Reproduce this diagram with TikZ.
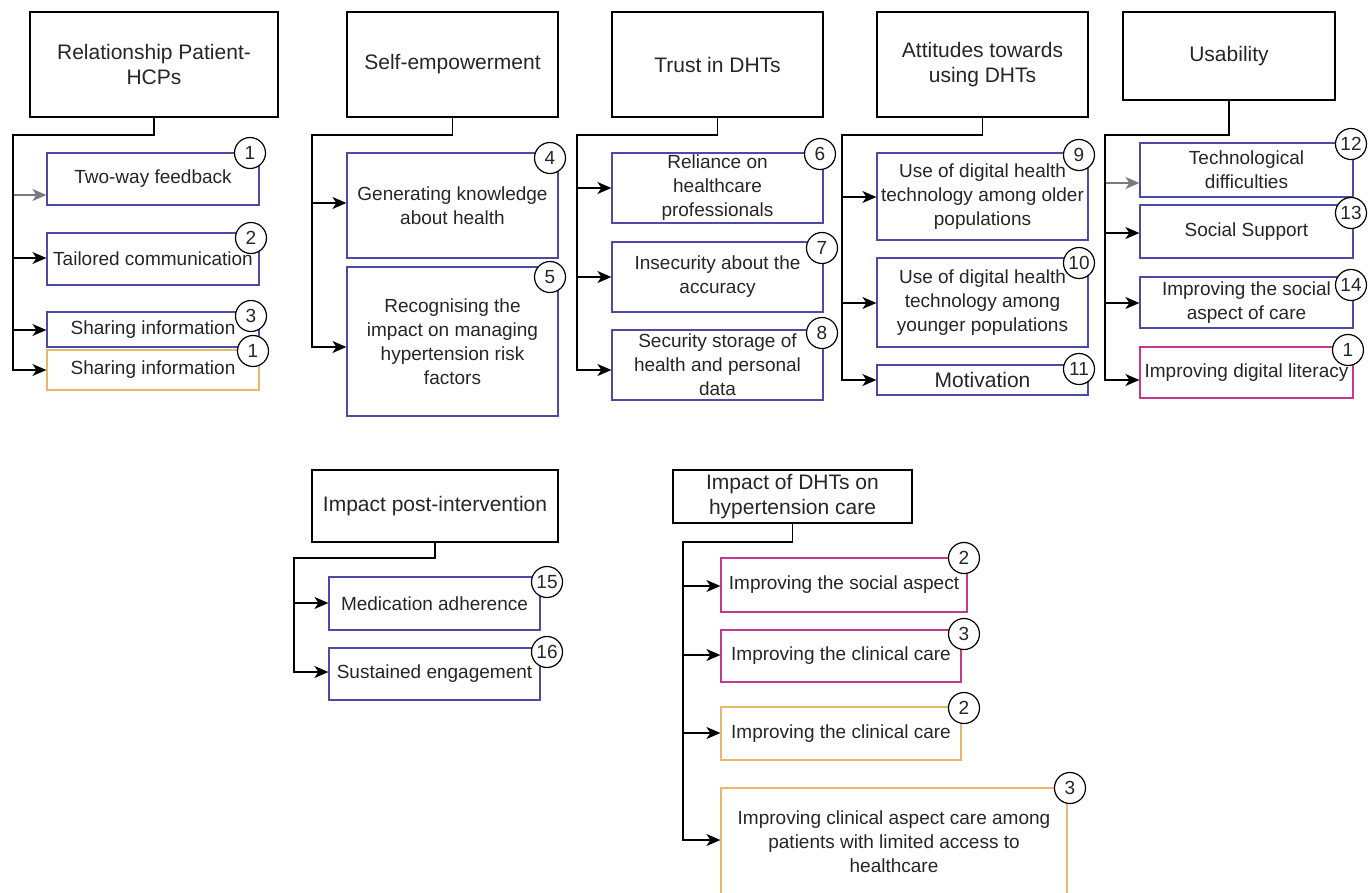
\documentclass[tikz,border=0pt]{standalone}
\usepackage{fontspec}
\setmainfont{Liberation Sans}
\usepackage{tikz}
\usetikzlibrary{shapes}
\usetikzlibrary{arrows.meta}
\usetikzlibrary{positioning}
\usetikzlibrary{calc}
\definecolor{subblue}{HTML}{4B4BA6}
\definecolor{suborange}{HTML}{E9B86B}
\definecolor{submagenta}{HTML}{C23A8C}
\definecolor{txtgray}{HTML}{262626}
\definecolor{linkgray}{HTML}{7A7A7A}
\newcommand{\hdrFont}{\fontsize{21}{25}\selectfont}
\newcommand{\subFont}{\fontsize{19}{24}\selectfont}

\begin{document}
\begin{tikzpicture}[x=1pt,y=-1pt,
  branch/.style={
    -{Stealth[length=14pt,width=12pt,inset=4pt]},line width=1.7pt
  },
  theme/.style 2 args={
    rectangle,
    draw=black,
    line width=1.5pt,
    fill=white,
    text=txtgray,
    align=center,
    inner sep=0pt,
    minimum width=#1,
    minimum height=#2,
    font=\hdrFont},
  topic/.style={
    rectangle,
    draw=#1,
    line width=1.2pt,
    fill=white,
    text=txtgray,
    align=center,
    inner sep=0pt,
    font=\subFont},
  badge/.style={
    circle,
    draw=black,
    line width=1.2pt,
    fill=white,
    text=txtgray,
    inner sep=0pt,
    minimum size=31pt,
    font=\subFont},
]

  \useasboundingbox (0,0) rectangle (1368,892);

  % Relationship Patient-HCPs
  \node[theme={248}{105}] (hA) at (154,64.5) {Relationship Patient-\\HCPs};
  \coordinate (busA) at (13,135);
  \def\colL{47}\def\colR{259}
  \foreach \id/\top/\bot/\clr/\lc/\ay/\ncx/\ncy/\num/\txt in {
      1/153/205/subblue/linkgray/195/250/153/1/{Two-way feedback},
      2/233/285/subblue/black/258/251/238/2/{Tailored communication},
      3/312/347/subblue/black/330/251/316/3/{Sharing information},
      4/350/390/suborange/black/370/253/351/1/{Sharing information}} {
    \node[topic=\clr, minimum width={\colR-\colL}, minimum height={\bot-\top}]
        (a\id) at ({(\colL+\colR)/2},{(\top+\bot)/2}) {\txt};
    \node[badge] (na\id) at (\ncx,\ncy) {\num};
    \draw[branch,draw=\lc] (hA.south) |- (busA) |- (a\id.west |- 0,\ay);
  }

  % Self-empowerment
  \node[theme={211}{105}] (hB) at (452.5,64.5) {Self-empowerment};
  \coordinate (busB) at (312,135);
  \def\colL{347}\def\colR{558}
  \foreach \id/\top/\bot/\clr/\lc/\ay/\ncx/\ncy/\num/\txt in {
      4/153/258/subblue/black/203/550/158/4/{Generating knowledge\\about health},
      5/267/416/subblue/black/347/550/277/5/{Recognising the\\impact on managing\\hypertension risk\\factors}} {
    \node[topic=\clr, minimum width={\colR-\colL}, minimum height={\bot-\top}]
        (b\id) at ({(\colL+\colR)/2},{(\top+\bot)/2}) {\txt};
    \node[badge] (nb\id) at (\ncx,\ncy) {\num};
    \draw[branch,draw=\lc] (hB.south) |- (busB) |- (b\id.west |- 0,\ay);
  }

  % Trust in DHTs
  \node[theme={211}{105}] (hC) at (717.5,64.5) {Trust in DHTs};
  \coordinate (busC) at (577,135);
  \def\colL{612}\def\colR{823}
  \foreach \id/\top/\bot/\clr/\lc/\ay/\ncx/\ncy/\num/\txt in {
      6/153/223/subblue/black/188/820/154/6/{Reliance on\\healthcare\\professionals},
      7/242/312/subblue/black/277/822/248/7/{Insecurity about the\\accuracy},
      8/330/400/subblue/black/370/822/333/8/{Security storage of\\health and personal\\data}} {
    \node[topic=\clr, minimum width={\colR-\colL}, minimum height={\bot-\top}]
        (c\id) at ({(\colL+\colR)/2},{(\top+\bot)/2}) {\txt};
    \node[badge] (nc\id) at (\ncx,\ncy) {\num};
    \draw[branch,draw=\lc] (hC.south) |- (busC) |- (c\id.west |- 0,\ay);
  }

  % Attitudes towards using DHTs
  \node[theme={211}{105}] (hD) at (982.5,64.5) {Attitudes towards\\using DHTs};
  \coordinate (busD) at (842,135);
  \def\colL{877}\def\colR{1088}
  \foreach \id/\top/\bot/\clr/\lc/\ay/\ncx/\ncy/\num/\txt in {
      9/153/240/subblue/black/197/1079/155/9/{Use of digital health\\technology among older\\populations},
      10/258/347/subblue/black/303/1079/263/10/{Use of digital health\\technology among\\younger populations},
      11/365/395/subblue/black/380/1079/369/11/{\hdrFont Motivation}} {
    \node[topic=\clr, minimum width={\colR-\colL}, minimum height={\bot-\top}]
        (d\id) at ({(\colL+\colR)/2},{(\top+\bot)/2}) {\txt};
    \node[badge] (nd\id) at (\ncx,\ncy) {\num};
    \draw[branch,draw=\lc] (hD.south) |- (busD) |- (d\id.west |- 0,\ay);
  }

  % Usability
  \node[theme={212}{88}] (hE) at (1229,56) {Usability};
  \coordinate (busE) at (1105,135);
  \def\colL{1140}\def\colR{1353}
  \foreach \id/\top/\bot/\clr/\lc/\ay/\ncx/\ncy/\num/\txt in {
      12/143/197/subblue/linkgray/183/1351/144/12/{Technological\\difficulties},
      13/205/258/subblue/black/233/1351/213/13/{Social Support},
      14/277/328/subblue/black/303/1351/285/14/{Improving the social\\aspect of care},
      1/347/398/submagenta/black/380/1348/350/1/{Improving digital literacy}} {
    \node[topic=\clr, minimum width={\colR-\colL}, minimum height={\bot-\top}]
        (e\id) at ({(\colL+\colR)/2},{(\top+\bot)/2}) {\txt};
    \node[badge] (ne\id) at (\ncx,\ncy) {\num};
    \draw[branch,draw=\lc] (hE.south) |- (busE) |- (e\id.west |- 0,\ay);
  }

  % Impact post-intervention
  \node[theme={246}{72}] (hF) at (435,506) {Impact post-intervention};
  \coordinate (busF) at (294,558);
  \def\colL{329}\def\colR{540}
  \foreach \id/\top/\bot/\clr/\lc/\ay/\ncx/\ncy/\num/\txt in {
      15/577/630/subblue/black/603/547/582/15/{Medication adherence},
      16/648/700/subblue/black/672/547/652/16/{Sustained engagement}} {
    \node[topic=\clr, minimum width={\colR-\colL}, minimum height={\bot-\top}]
        (f\id) at ({(\colL+\colR)/2},{(\top+\bot)/2}) {\txt};
    \node[badge] (nf\id) at (\ncx,\ncy) {\num};
    \draw[branch,draw=\lc] (hF.south) |- (busF) |- (f\id.west |- 0,\ay);
  }

  % Impact of DHTs on hypertension care
  \node[theme={239}{53}] (hG) at (792.5,496.5) {Impact of DHTs on\\hypertension care};
  \coordinate (busG) at (683,542);
  \def\colL{721}
  \foreach \id/\top/\bot/\colR/\clr/\ay/\ncx/\ncy/\num/\txt in {
      1/558/612/967/submagenta/586/964/558/2/{Improving the social aspect},
      2/630/682/961/submagenta/655/964/634/3/{Improving the clinical care},
      3/707/760/961/suborange/733/964/708/2/{Improving the clinical care},
      4/788/896/1067/suborange/840/1070/788/3/{Improving clinical aspect care among\\patients with limited access to\\healthcare}} {
    \node[topic=\clr, minimum width={\colR-\colL}, minimum height={\bot-\top}]
        (g\id) at ({(\colL+\colR)/2},{(\top+\bot)/2}) {\txt};
    \node[badge] (ng\id) at (\ncx,\ncy) {\num};
    \draw[branch] (hG.south) |- (busG) |- (g\id.west |- 0,\ay);
  }

\end{tikzpicture}
\end{document}
